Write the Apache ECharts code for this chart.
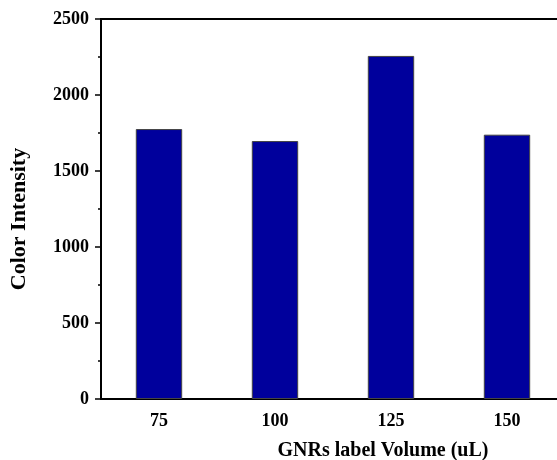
<!DOCTYPE html>
<html>
<head>
<meta charset="utf-8">
<script src="https://cdn.jsdelivr.net/npm/echarts@6/dist/echarts.min.js"></script>
<style>html,body{margin:0;padding:0;background:#fff}#c{width:557px;height:460px}</style>
</head>
<body>
<div id="c"></div>
<script>
const categories = ['75', '100', '125', '150'];
const values = [1776, 1697, 2257, 1739];
const yTicks = [0, 500, 1000, 1500, 2000, 2500];

const font = '"Liberation Serif", "Times New Roman", serif';
const chart = echarts.init(document.getElementById('c'));
chart.setOption({
  animation: false,
  grid: { left: 101, width: 464, top: 19, height: 380, outerBoundsMode: 'none', containLabel: false, show: true, borderColor: '#000', borderWidth: 2, backgroundColor: 'transparent' },
  xAxis: {
    type: 'category',
    data: categories,
    name: 'GNRs label Volume (uL)',
    nameLocation: 'middle',
    nameGap: 42,
    nameTextStyle: { fontFamily: font, fontWeight: 'bold', fontSize: 20, color: '#000', padding: [0, 0, 0, 100] },
    axisLine: { lineStyle: { color: '#000', width: 2 } },
    axisTick: { show: false },
    axisLabel: { fontFamily: font, fontWeight: 'bold', fontSize: 18, color: '#000', margin: 13 }
  },
  yAxis: {
    type: 'value',
    min: yTicks[0],
    max: yTicks[yTicks.length - 1],
    interval: 500,
    name: 'Color Intensity',
    nameLocation: 'middle',
    nameGap: 71,
    nameTextStyle: { fontFamily: font, fontWeight: 'bold', fontSize: 22, color: '#000', padding: [0, 20, 0, 0] },
    axisLine: { show: true, lineStyle: { color: '#000', width: 2 } },
    axisTick: { show: true, inside: false, length: 6, lineStyle: { color: '#000', width: 1.5 } },
    minorTick: { show: true, splitNumber: 2, length: 3, lineStyle: { color: '#000', width: 1.5 } },
    splitLine: { show: false },
    axisLabel: { fontFamily: font, fontWeight: 'bold', fontSize: 18, color: '#000', margin: 12, formatter: v => String(v) }
  },
  series: [{
    type: 'bar',
    data: values,
    barWidth: '40%',
    itemStyle: { color: '#00009c', borderColor: '#444', borderWidth: 1 }
  }]
});
</script>
</body>
</html>
